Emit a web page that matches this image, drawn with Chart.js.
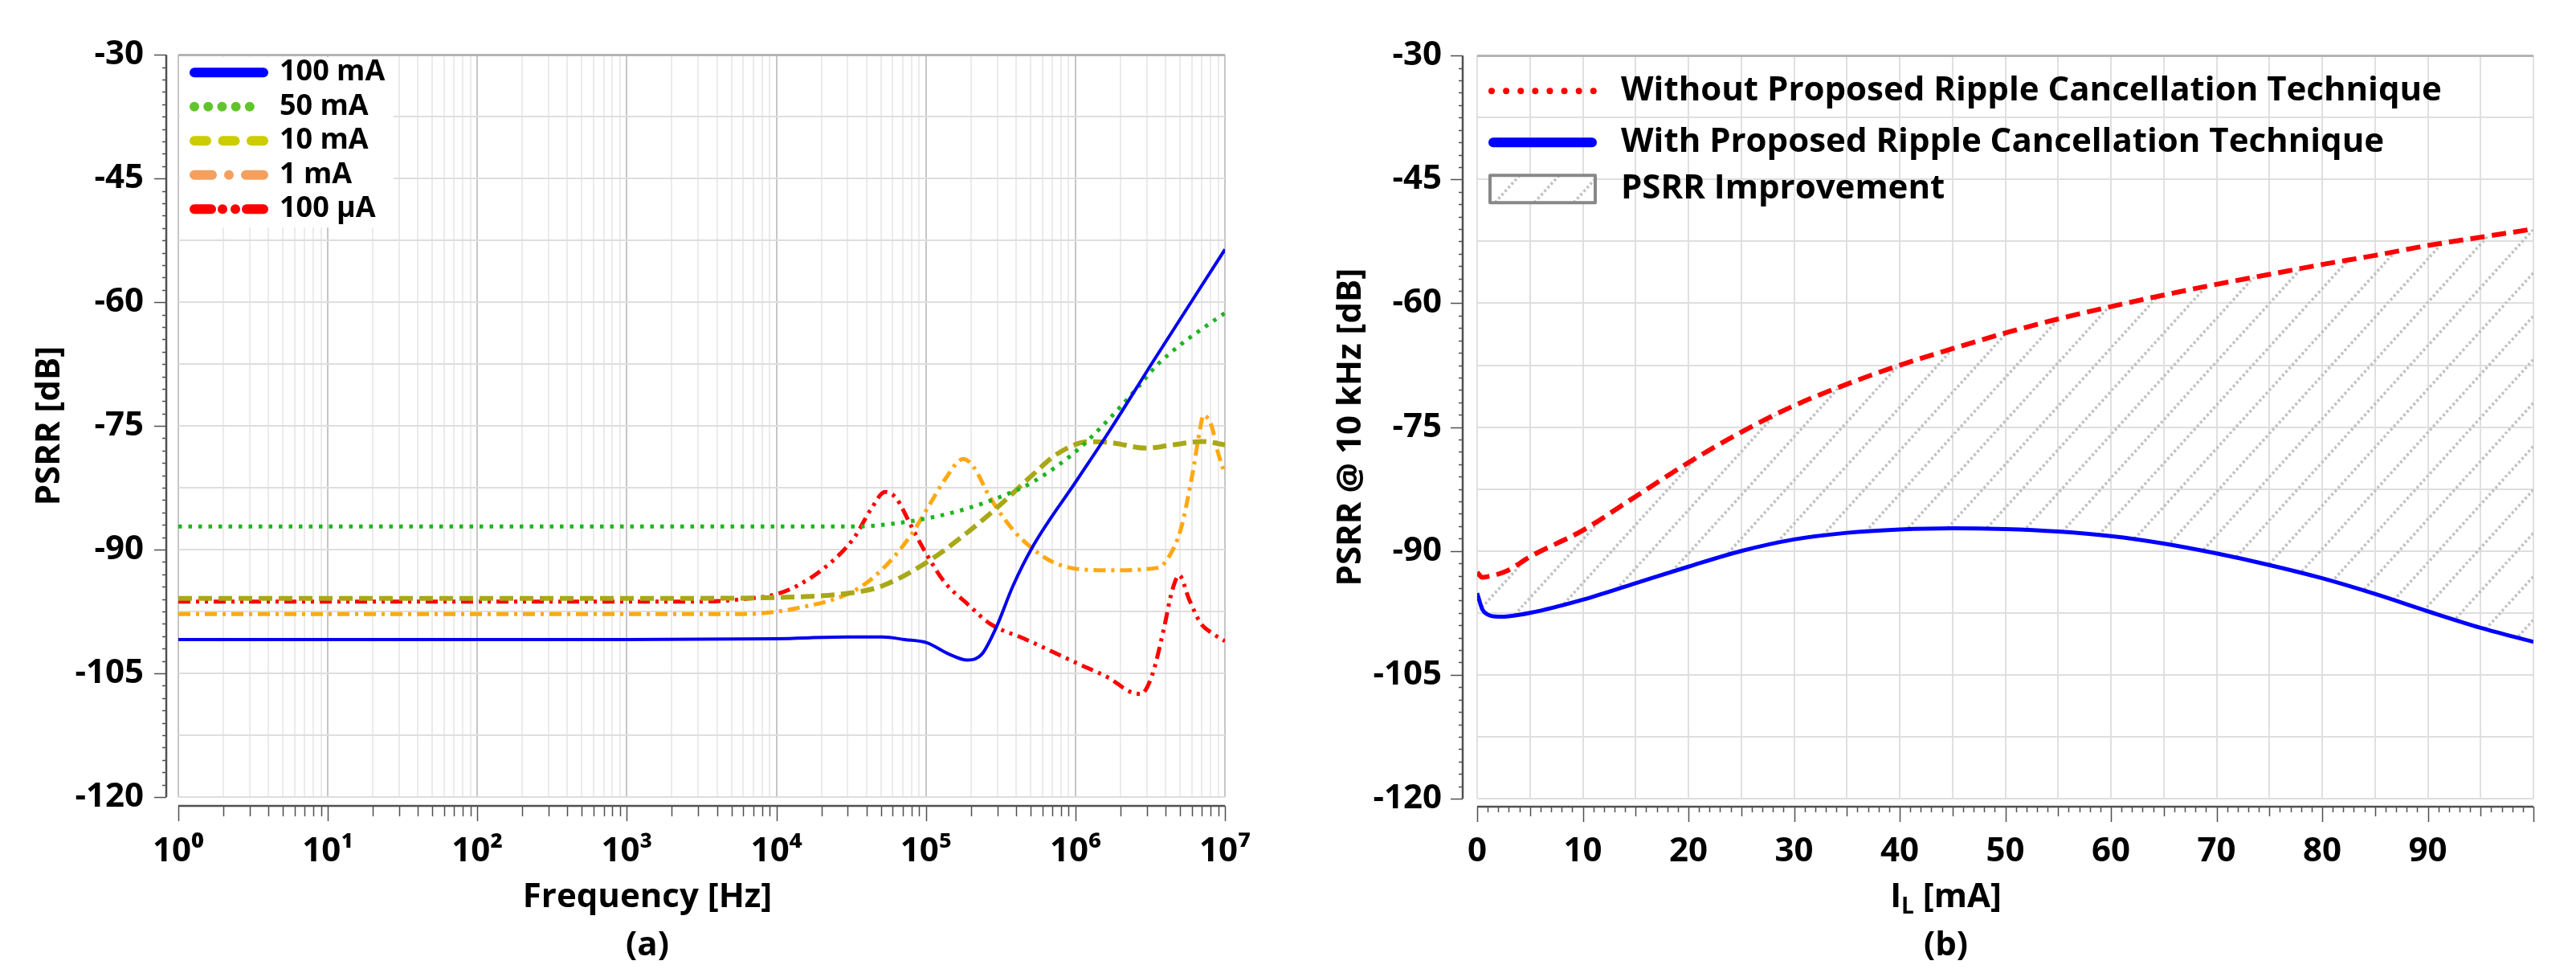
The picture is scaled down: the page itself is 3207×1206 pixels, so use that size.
<!DOCTYPE html>
<html lang="en">
<head>
<meta charset="UTF-8">
<title>PSRR</title>
<script src="https://cdn.jsdelivr.net/npm/chart.js@4.4.1/dist/chart.umd.min.js"></script>
<style>
  html, body { margin: 0; padding: 0; background: #fff; }
  #wrap { position: relative; width: 3207px; height: 1206px; }
  .panel { position: absolute; top: 0; height: 1206px; }
  #panelA { left: 0; width: 1600px; }
  #panelB { left: 1600px; width: 1607px; }
</style>
</head>
<body>
<div id="wrap">
  <div class="panel" id="panelA"><canvas id="chartA"></canvas></div>
  <div class="panel" id="panelB"><canvas id="chartB"></canvas></div>
</div>
<script>
// (a) PSRR vs frequency, one curve per load current
const freq100mA = [1, 1e3, 1e4, 3e4, 5.1e4, 7.2e4, 1.02e5, 1.4e5, 1.9e5, 2.36e5, 2.94e5, 3.82e5, 5.19e5, 1.02e6, 1.69e6, 3.33e6, 1e7];
const psrr100mA = [-100.9, -100.9, -100.8, -100.6, -100.6, -100.9, -101.3, -102.6, -103.4, -102.7, -99.5, -94.4, -89.6, -81.6, -75.6, -67.1, -53.6];

const freq50mA = [1, 1e4, 3.3e4, 5.1e4, 1.02e5, 1.9e5, 3.35e5, 5.19e5, 1.02e6, 1.69e6, 2.62e6, 3.48e6, 5e6, 7.2e6, 1e7];
const psrr50mA = [-87.2, -87.2, -87.2, -87.0, -86.2, -85.0, -83.4, -81.8, -78.0, -74.1, -70.3, -67.7, -65.2, -63.1, -61.3];

const freq10mA = [1, 3e3, 1e4, 3.3e4, 5.1e4, 1.02e5, 1.9e5, 3.35e5, 5.19e5, 7.69e5, 1.24e6, 1.69e6, 2.99e6, 4.43e6, 7.16e6, 1e7];
const psrr10mA = [-95.9, -95.9, -95.8, -95.2, -94.4, -91.5, -87.9, -84.1, -80.9, -78.3, -76.9, -77.0, -77.7, -77.3, -76.9, -77.3];

const freq1mA = [1, 6e3, 1.37e4, 3.3e4, 5.1e4, 7.9e4, 1.07e5, 1.34e5, 1.78e5, 2.07e5, 2.69e5, 3.82e5, 5.19e5, 7.05e5, 1.09e6, 1.69e6, 3.56e6, 4.24e6, 5.05e6, 6.01e6, 6.86e6, 7.16e6, 8.17e6, 8.91e6, 1e7];
const psrr1mA = [-97.8, -97.8, -97.1, -95.0, -92.4, -88.3, -84.4, -81.5, -79.0, -79.9, -83.7, -87.6, -89.9, -91.5, -92.4, -92.5, -92.2, -90.8, -87.6, -81.2, -75.1, -73.7, -75.1, -78.0, -80.9];

const freq100uA = [1, 3e3, 6e3, 1e4, 1.37e4, 2.13e4, 3.3e4, 4.29e4, 5.33e4, 6.35e4, 7.9e4, 9.84e4, 1.34e5, 1.9e5, 2.69e5, 4.55e5, 7.05e5, 1.09e6, 1.69e6, 2.3e6, 2.74e6, 3.26e6, 3.88e6, 4.43e6, 4.94e6, 5.75e6, 6.86e6, 8.17e6, 1e7];
const psrr100uA = [-96.3, -96.3, -96.0, -95.4, -94.4, -92.1, -88.6, -85.1, -83.0, -83.8, -87.0, -90.2, -94.0, -96.6, -99.0, -100.8, -102.4, -104.0, -105.6, -107.2, -107.5, -105.2, -99.8, -95.0, -93.1, -96.0, -98.9, -100.1, -101.1];

// (b) PSRR @ 10 kHz vs load current
const loadCurrent = [0, 0.5, 1, 2, 3, 5, 10, 15, 20, 25, 30, 35, 40, 45, 50, 55, 60, 65, 70, 75, 80, 85, 90, 95, 100];
const psrrWithout = [-92.6, -93.2, -93.1, -92.8, -92.3, -90.7, -87.5, -83.4, -79.3, -75.6, -72.4, -69.8, -67.5, -65.5, -63.6, -61.9, -60.4, -59.0, -57.7, -56.5, -55.3, -54.2, -53.0, -52.0, -51.0];
const psrrWith = [-95.1, -97.1, -97.7, -97.95, -97.9, -97.5, -95.9, -93.9, -91.9, -90.0, -88.6, -87.8, -87.4, -87.25, -87.35, -87.65, -88.2, -89.1, -90.3, -91.7, -93.3, -95.2, -97.3, -99.3, -101.0];

// tick labels
const psrrTickValues = [-30, -45, -60, -75, -90, -105, -120];
const freqDecades = [1, 10, 100, 1e3, 1e4, 1e5, 1e6, 1e7];
const supDigits = ['\u2070', '\u00b9', '\u00b2', '\u00b3', '\u2074', '\u2075', '\u2076', '\u2077'];
const currentTickValues = [0, 10, 20, 30, 40, 50, 60, 70, 80, 90];

const FONT = "'Open Sans', 'Noto Sans', 'DejaVu Sans', sans-serif";
Chart.defaults.font.family = FONT;
Chart.defaults.font.weight = 'bold';
Chart.defaults.color = '#000';
Chart.defaults.animation = false;

const near = (a, b) => Math.abs(a - b) < 1e-6;
const isMult = (v, m) => near(v / m, Math.round(v / m));
const pairs = (xs, ys) => xs.map((x, i) => ({ x, y: ys[i] }));

function mantissa(v) {
  return v / Math.pow(10, Math.floor(Math.log10(v) + 1e-9));
}

// axis lines sit a little off the plot area, like the original figure
function offsetAxes(opts) {
  return {
    id: 'offsetAxes',
    afterDraw(chart) {
      const { ctx, chartArea: a, scales: { x, y } } = chart;
      const axX = a.left - opts.gapLeft;
      const axY = a.bottom + opts.gapBottom;
      ctx.save();
      ctx.strokeStyle = '#505050';
      ctx.lineWidth = 2.5;
      ctx.beginPath();
      ctx.moveTo(axX, a.top); ctx.lineTo(axX, a.bottom);
      ctx.moveTo(a.left, axY); ctx.lineTo(a.right, axY);
      ctx.stroke();
      ctx.lineWidth = 1.5;
      ctx.beginPath();
      y.ticks.forEach(t => {
        const len = opts.yTick(t.value);
        if (!len) return;
        const p = Math.round(y.getPixelForValue(t.value)) + 0.5;
        ctx.moveTo(axX, p); ctx.lineTo(axX - len, p);
      });
      x.ticks.forEach(t => {
        const len = opts.xTick(t.value);
        if (!len) return;
        const p = Math.round(x.getPixelForValue(t.value)) + 0.5;
        ctx.moveTo(p, axY); ctx.lineTo(p, axY + len);
      });
      ctx.stroke();
      ctx.restore();
    }
  };
}

function drawRich(ctx, parts, cx, cy) {
  let total = 0;
  parts.forEach(p => {
    ctx.font = `bold ${p.size}px ${FONT}`;
    p.w = ctx.measureText(p.text).width;
    total += p.w;
  });
  let x = cx - total / 2;
  ctx.textAlign = 'left';
  ctx.textBaseline = 'middle';
  parts.forEach(p => {
    ctx.font = `bold ${p.size}px ${FONT}`;
    ctx.fillText(p.text, x, cy + (p.dy || 0));
    x += p.w;
  });
}

function captions(lines) {
  return {
    id: 'captions',
    afterDraw(chart) {
      const ctx = chart.ctx;
      ctx.save();
      ctx.fillStyle = '#000';
      lines.forEach(l => drawRich(ctx, l.parts, chart.width / 2 + l.dx, l.y));
      ctx.restore();
    }
  };
}

function psrrAxis(titleText, titlePad, width, labelPad) {
  return {
    min: -120, max: -30,
    afterFit(scale) { scale.width = width; },
    border: { display: false },
    grid: {
      drawTicks: false,
      color: c => near(c.tick.value, -30) ? '#b4b4b4' : (isMult(c.tick.value, 7.5) ? '#dedede' : 'rgba(0,0,0,0)'),
      lineWidth: c => near(c.tick.value, -30) ? 3 : 2
    },
    ticks: {
      stepSize: 1.5,
      autoSkip: false,
      padding: labelPad,
      font: { size: 42, weight: 'bold' },
      callback: v => psrrTickValues.some(t => near(t, v)) ? String(Math.round(v)) : ''
    },
    title: {
      display: true, text: titleText,
      font: { size: 42, weight: 'bold' },
      padding: { top: titlePad, bottom: 0 }
    }
  };
}

// ---------- chart (a) ----------
const legendStylesA = [
  { color: '#0000ff', dash: [] },
  { color: '#62c42c', dash: [0.01, 17.2] },
  { color: '#cccc00', dash: [15, 20.5] },
  { color: '#f4a060', dash: [22, 21, 0.01, 21] },
  { color: '#ff0000', dash: [21, 14, 0.01, 16, 0.01, 14] }
];

const legendA = {
  id: 'legendA',
  beforeDatasetsDraw(chart) {
    const { ctx, chartArea: a } = chart;
    ctx.save();
    ctx.fillStyle = '#fff';
    ctx.fillRect(a.left + 2, a.top + 3, 266, 212);
    ctx.restore();
  },
  afterDatasetsDraw(chart) {
    const { ctx, chartArea: a } = chart;
    ctx.save();
    chart.data.datasets.forEach((ds, i) => {
      const st = legendStylesA[i];
      const yy = a.top + 22 + i * 42.5;
      ctx.strokeStyle = st.color;
      ctx.lineWidth = 12;
      ctx.lineCap = 'round';
      ctx.setLineDash(st.dash);
      ctx.beginPath();
      ctx.moveTo(a.left + 20, yy);
      ctx.lineTo(a.left + 106, yy);
      ctx.stroke();
      ctx.setLineDash([]);
      ctx.fillStyle = '#000';
      ctx.font = `bold 36px ${FONT}`;
      ctx.textAlign = 'left';
      ctx.textBaseline = 'middle';
      ctx.fillText(ds.label, a.left + 126, yy);
    });
    ctx.restore();
  }
};

new Chart(document.getElementById('chartA'), {
  type: 'line',
  data: {
    datasets: [
      { label: '100 mA', data: pairs(freq100mA, psrr100mA), borderColor: '#0000ee', borderWidth: 4 },
      { label: '50 mA', data: pairs(freq50mA, psrr50mA), borderColor: '#1fb51f', borderWidth: 5, borderDash: [4.5, 8] },
      { label: '10 mA', data: pairs(freq10mA, psrr10mA), borderColor: '#a8a818', borderWidth: 6, borderDash: [17, 8] },
      { label: '1 mA', data: pairs(freq1mA, psrr1mA), borderColor: '#ffa812', borderWidth: 5, borderDash: [15, 7, 4, 7] },
      { label: '100 \u00b5A', data: pairs(freq100uA, psrr100uA), borderColor: '#ff0000', borderWidth: 5, borderDash: [15, 7, 4, 7, 4, 7] }
    ]
  },
  options: {
    responsive: true,
    maintainAspectRatio: false,
    layout: { padding: { top: 58, right: 62, left: 0, bottom: 0 } },
    elements: { point: { radius: 0 }, line: { cubicInterpolationMode: 'monotone', borderCapStyle: 'butt' } },
    plugins: { legend: { display: false }, tooltip: { enabled: false } },
    scales: {
      x: {
        type: 'logarithmic',
        min: 1, max: 1e7,
        afterFit(scale) { scale.height = 214; },
        border: { display: false },
        grid: {
          drawTicks: false,
          color: c => {
            const m = mantissa(c.tick.value);
            if (near(m, 1) || near(m, 10)) return '#c6c6c6';
            return near(m, Math.round(m)) ? '#ebebeb' : 'rgba(0,0,0,0)';
          },
          lineWidth: 2
        },
        ticks: {
          autoSkip: false,
          maxRotation: 0,
          padding: 43,
          font: { size: 42, weight: 'bold' },
          callback: v => {
            const k = freqDecades.findIndex(d => near(d / v, 1));
            return k >= 0 ? '10' + supDigits[k] : '';
          }
        }
      },
      y: psrrAxis('PSRR [dB]', 37, 222, 43)
    }
  },
  plugins: [
    legendA,
    offsetAxes({
      gapLeft: 15, gapBottom: 11,
      yTick: v => isMult(v, 15) ? 15 : 5,
      xTick: v => {
        const m = mantissa(v);
        if (near(m, 1) || near(m, 10)) return 19;
        return near(m, Math.round(m)) ? 13 : 0;
      }
    }),
    captions([
      { dx: 6, y: 1117, parts: [{ text: 'Frequency [Hz]', size: 42 }] },
      { dx: 6, y: 1177, parts: [{ text: '(a)', size: 42 }] }
    ])
  ]
});

// ---------- chart (b) ----------
const ctxB = document.getElementById('chartB').getContext('2d');

function hatchPattern() {
  const w = 49, h = 54;
  const c = document.createElement('canvas');
  c.width = w; c.height = h;
  const g = c.getContext('2d');
  const u = Math.hypot(w, h) / 24;
  g.strokeStyle = '#c2c2c2';
  g.lineWidth = 3.5;
  g.setLineDash([u, u]);
  [-w, 0, w].forEach(dx => {
    g.beginPath();
    g.moveTo(dx, h);
    g.lineTo(dx + w, 0);
    g.stroke();
  });
  return ctxB.createPattern(c, 'repeat');
}
const hatch = hatchPattern();

const legendB = {
  id: 'legendB',
  afterDatasetsDraw(chart) {
    const { ctx, chartArea: a } = chart;
    const x0 = a.left + 14, x1 = a.left + 149, tx = a.left + 179;
    const rows = [a.top + 44, a.top + 108, a.top + 166];
    ctx.save();
    ctx.lineCap = 'round';
    // without: dotted red
    ctx.strokeStyle = '#ff0000';
    ctx.lineWidth = 8;
    ctx.setLineDash([0.01, 18.1]);
    ctx.beginPath(); ctx.moveTo(x0 + 4, rows[0]); ctx.lineTo(x1 - 4, rows[0]); ctx.stroke();
    // with: solid blue
    ctx.strokeStyle = '#0000ff';
    ctx.lineWidth = 12;
    ctx.setLineDash([]);
    ctx.beginPath(); ctx.moveTo(x0 + 6, rows[1]); ctx.lineTo(x1 - 6, rows[1]); ctx.stroke();
    // improvement: hatched box
    ctx.fillStyle = '#fff';
    ctx.fillRect(x0 + 2, rows[2] - 17, x1 - x0 - 4, 34);
    ctx.fillStyle = hatch;
    ctx.fillRect(x0 + 2, rows[2] - 17, x1 - x0 - 4, 34);
    ctx.strokeStyle = '#888';
    ctx.lineWidth = 4;
    ctx.lineJoin = 'round';
    ctx.strokeRect(x0 + 2, rows[2] - 17, x1 - x0 - 4, 34);
    ctx.fillStyle = '#000';
    ctx.font = `bold 42px ${FONT}`;
    ctx.textAlign = 'left';
    ctx.textBaseline = 'middle';
    ctx.fillText('Without Proposed Ripple Cancellation Technique', tx, rows[0]);
    ctx.fillText('With Proposed Ripple Cancellation Technique', tx, rows[1]);
    ctx.fillText('PSRR Improvement', tx, rows[2]);
    ctx.restore();
  }
};

new Chart(ctxB, {
  type: 'line',
  data: {
    datasets: [
      { label: 'Without Proposed Ripple Cancellation Technique', data: pairs(loadCurrent, psrrWithout), borderColor: '#ff0000', borderWidth: 6, borderDash: [18, 9], fill: false },
      { label: 'With Proposed Ripple Cancellation Technique', data: pairs(loadCurrent, psrrWith), borderColor: '#0000ff', borderWidth: 5, fill: '-1', backgroundColor: hatch }
    ]
  },
  options: {
    responsive: true,
    maintainAspectRatio: false,
    layout: { padding: { top: 59, right: 53, left: 0, bottom: 0 } },
    elements: { point: { radius: 0 }, line: { cubicInterpolationMode: 'monotone' } },
    plugins: { legend: { display: false }, tooltip: { enabled: false } },
    scales: {
      x: {
        type: 'linear',
        min: 0, max: 100,
        afterFit(scale) { scale.height = 212; },
        border: { display: false },
        grid: {
          drawTicks: false,
          color: c => isMult(c.tick.value, 5) ? '#e0e0e0' : 'rgba(0,0,0,0)',
          lineWidth: 2
        },
        ticks: {
          stepSize: 1,
          autoSkip: false,
          maxRotation: 0,
          padding: 41,
          font: { size: 42, weight: 'bold' },
          callback: v => currentTickValues.some(t => near(t, v)) ? String(Math.round(v)) : ''
        }
      },
      y: psrrAxis('PSRR @ 10 kHz [dB]', 57, 239, 44)
    }
  },
  plugins: [
    legendB,
    offsetAxes({
      gapLeft: 18, gapBottom: 10,
      yTick: v => isMult(v, 15) ? 15 : 5,
      xTick: v => isMult(v, 10) ? 19 : (isMult(v, 5) ? 12 : 7)
    }),
    captions([
      { dx: 19, y: 1117, parts: [{ text: 'I', size: 42 }, { text: 'L', size: 28, dy: 12 }, { text: ' [mA]', size: 42 }] },
      { dx: 19, y: 1177, parts: [{ text: '(b)', size: 42 }] }
    ])
  ]
});
</script>
</body>
</html>
